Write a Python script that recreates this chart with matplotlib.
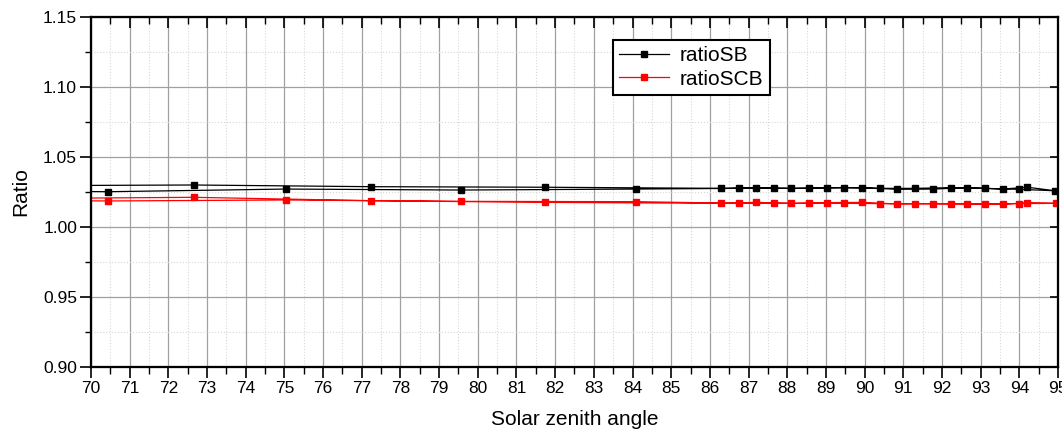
import matplotlib
matplotlib.use("Agg")
import matplotlib.pyplot as plt
from matplotlib import font_manager as fm
from matplotlib.ticker import MultipleLocator, FormatStrFormatter

# avoid picking the Narrow variant of Liberation Sans
fm.fontManager.ttflist = [f for f in fm.fontManager.ttflist
                          if 'Narrow' not in f.name and 'Narrow' not in f.fname]
try:
    fm.fontManager._findfont_cached.cache_clear()
except Exception:
    pass
plt.rcParams['font.family'] = ['Liberation Sans', 'DejaVu Sans']

# Path order: forward (off-chart start -> 95) then back (95 -> off-chart end)
angle_sb = [68.0, 70.44, 75.03, 79.57, 84.09,
            86.74, 87.66, 88.57, 89.47, 90.40, 91.30, 92.23, 93.10, 93.98, 94.92,
            94.21, 93.57, 92.66, 91.77, 90.85, 89.93, 89.02, 88.11, 87.19, 86.29,
            81.73, 77.23, 72.65, 68.0]
ratio_sb = [1.0258, 1.0252, 1.0271, 1.0264, 1.0271,
            1.0276, 1.0276, 1.0276, 1.0281, 1.0276, 1.0276, 1.0281, 1.0276, 1.0269, 1.0259,
            1.0284, 1.0271, 1.0281, 1.0271, 1.0269, 1.0281, 1.0281, 1.0276, 1.0281, 1.0276,
            1.0284, 1.0288, 1.0300, 1.0295]

angle_scb = [68.0, 70.44, 75.03, 79.57, 84.09,
             86.74, 87.66, 88.57, 89.47, 90.40, 91.30, 92.23, 93.10, 93.98, 94.96,
             94.21, 93.57, 92.66, 91.77, 90.85, 89.93, 89.02, 88.11, 87.19, 86.29,
             81.73, 77.23, 72.65, 68.0]
ratio_scb = [1.0190, 1.0186, 1.0193, 1.0183, 1.0181,
             1.0169, 1.0169, 1.0169, 1.0169, 1.0167, 1.0167, 1.0164, 1.0164, 1.0167, 1.0169,
             1.0174, 1.0162, 1.0167, 1.0167, 1.0164, 1.0176, 1.0174, 1.0169, 1.0176, 1.0169,
             1.0176, 1.0188, 1.0212, 1.0203]

series_names = ["ratioSB", "ratioSCB"]

fig = plt.figure(figsize=(10.62, 4.33), dpi=100)
ax = fig.add_axes([91/1062, 1-367/433, (1058-91)/1062, (367-17)/433])

ax.plot(angle_sb, ratio_sb, color='black', lw=0.9, marker='s', ms=5,
        mfc='black', mec='black', label=series_names[0], zorder=3)
ax.plot(angle_scb, ratio_scb, color='red', lw=0.9, marker='s', ms=5,
        mfc='red', mec='red', label=series_names[1], zorder=3)

XLIM = (70, 95)
YLIM = (0.90, 1.15)
ax.set_xlim(*XLIM)
ax.set_ylim(*YLIM)
ax.xaxis.set_major_locator(MultipleLocator(1))
ax.xaxis.set_minor_locator(MultipleLocator(0.5))
ax.yaxis.set_major_locator(MultipleLocator(0.05))
ax.yaxis.set_minor_locator(MultipleLocator(0.025))
ax.yaxis.set_major_formatter(FormatStrFormatter('%.2f'))

ax.grid(which='major', color='#a0a0a0', lw=0.9, ls='-', zorder=0)
ax.grid(which='minor', color='#d8d8d8', lw=0.8, ls=':', zorder=0)
ax.set_axisbelow(True)

for s in ax.spines.values():
    s.set_linewidth(1.5)

ax.tick_params(axis='x', which='major', direction='out', length=8, width=1.2,
               labelsize=12.5, pad=2, top=False)
ax.tick_params(axis='x', which='minor', direction='out', length=5, width=1.0, top=False)
ax.tick_params(axis='y', which='major', direction='out', length=8, width=1.2,
               labelsize=12.5, pad=2, right=False)
ax.tick_params(axis='y', which='minor', direction='out', length=4, width=1.0, right=False)

# mirrored inward ticks on top and right
axt = ax.twiny()
axt.set_xlim(*XLIM)
axt.xaxis.set_major_locator(MultipleLocator(1))
axt.xaxis.set_minor_locator(MultipleLocator(0.5))
axt.tick_params(axis='x', which='major', direction='in', length=8, width=1.2,
                labeltop=False, top=True, bottom=False)
axt.tick_params(axis='x', which='minor', direction='in', length=5, width=1.0,
                top=True, bottom=False)
axt.grid(False)
axr = ax.twinx()
axr.set_ylim(*YLIM)
axr.yaxis.set_major_locator(MultipleLocator(0.05))
axr.yaxis.set_minor_locator(MultipleLocator(0.025))
axr.tick_params(axis='y', which='major', direction='in', length=6, width=1.2,
                labelright=False, right=True, left=False)
axr.tick_params(axis='y', which='minor', length=0)
axr.grid(False)
for a in (axt, axr):
    for s in a.spines.values():
        s.set_linewidth(1.5)

ax.set_xlabel("Solar zenith angle", fontsize=15, labelpad=10)
ax.set_ylabel("Ratio", fontsize=15, labelpad=9)

handles, labels = ax.get_legend_handles_labels()
leg = axr.legend(handles, labels, loc='upper left', bbox_to_anchor=(0.540, 0.934),
                 borderaxespad=0, fontsize=15, frameon=True, fancybox=False,
                 shadow=False, handlelength=2.4, handletextpad=0.5, borderpad=0.3,
                 labelspacing=0.2)
leg.get_frame().set_edgecolor('black')
leg.get_frame().set_linewidth(1.5)
leg.get_frame().set_alpha(1)

fig.savefig("out.png", dpi=100)
